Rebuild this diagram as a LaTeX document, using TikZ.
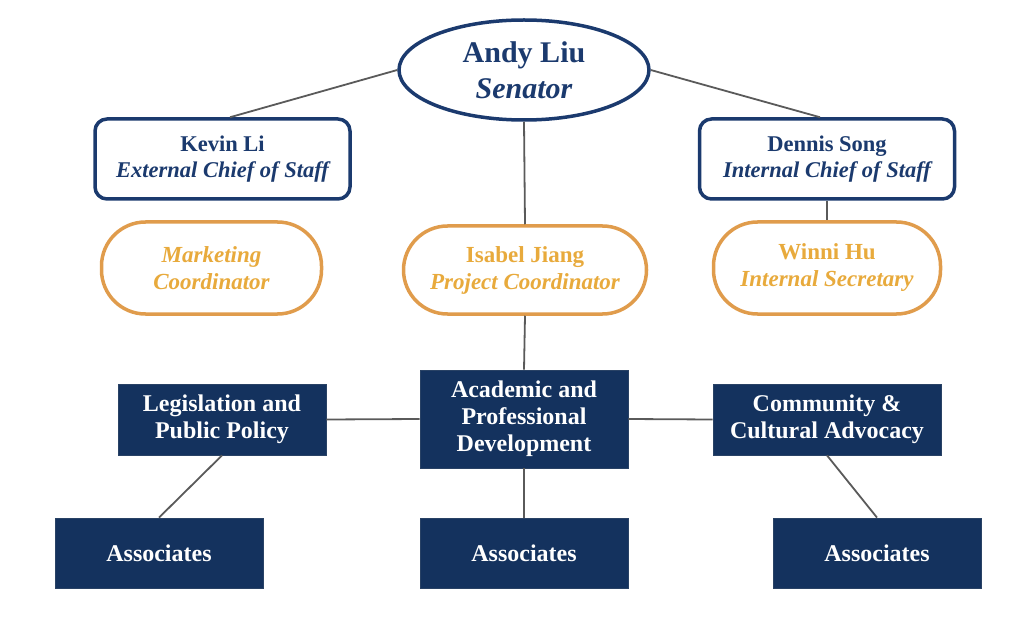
\documentclass[tikz,border=0pt]{standalone}
\usepackage{fontspec}
\setmainfont{Liberation Serif}
\usetikzlibrary{shapes.geometric}
\definecolor{navy}{HTML}{1B3A6E}
\definecolor{navyfill}{HTML}{14325E}
\definecolor{gold}{HTML}{E09C4C}
\definecolor{goldtext}{HTML}{E8AA3C}
\definecolor{linegray}{HTML}{5A5A5A}
\tikzset{
  link/.style={draw=linegray, line width=1.8pt},
  topnode/.style={ellipse, draw=navy, line width=3.5pt, fill=white, inner sep=0pt,
    minimum width=250pt, minimum height=100pt, align=center, text=navy,
    font=\fontsize{30}{36}\selectfont\bfseries},
  staffbox/.style={rectangle, rounded corners=12pt, draw=navy, line width=3.5pt, fill=white,
    inner sep=0pt, minimum width=255pt, minimum height=80pt, align=center, text=navy,
    font=\fontsize{22.5}{26}\selectfont\bfseries},
  coordbox/.style={rectangle, rounded corners=44pt, draw=gold, line width=3.5pt, fill=white,
    inner sep=0pt, minimum height=92pt, align=center, text=goldtext,
    font=\fontsize{23}{27}\selectfont\bfseries},
  deptbox/.style={rectangle, draw=navyfill!80!gray, line width=0.8pt, fill=navyfill,
    inner sep=0pt, minimum width=208pt, align=center, text=white,
    font=\fontsize{24}{27}\selectfont\bfseries}
}
\begin{document}
\begin{tikzpicture}[x=1pt, y=-1pt]
\useasboundingbox (0,0) rectangle (1024,628);
% top
\node[topnode] (andy) at (524,70) {Andy Liu\\\itshape Senator};
% chiefs
\node[staffbox] (kevin) at (222.5,159) {Kevin Li\\\itshape External Chief of Staff};
\node[staffbox] (dennis) at (827,159) {Dennis Song\\\itshape Internal Chief of Staff};
% coordinators
\node[coordbox, minimum width=220pt] (market) at (211.5,268) {\itshape Marketing\\\itshape Coordinator};
\node[coordbox, minimum width=243pt, minimum height=88pt] (isabel) at (525,270) {Isabel Jiang\\\itshape Project Coordinator};
\node[coordbox, minimum width=227pt] (winni) at (827,268) {Winni Hu\\\itshape Internal Secretary};
% departments
\node[deptbox, minimum height=98pt] (acad) at (524,419) {Academic and\\Professional\\Development};
\node[deptbox, minimum height=71pt] (legis) at (222,419.5) {Legislation and\\Public Policy};
\node[deptbox, minimum width=228pt, minimum height=71pt] (comm) at (827,419.5) {Community \&\\Cultural Advocacy};
% associates
\node[deptbox, minimum height=70pt] (assocL) at (159,553) {Associates};
\node[deptbox, minimum height=70pt] (assocC) at (524,553) {Associates};
\node[deptbox, minimum height=70pt] (assocR) at (877,553) {Associates};
% connectors
\coordinate (kevintop) at (230,117);
\coordinate (dennistop) at (820,117);
\draw[link] (andy.west) -- (kevin.north -| kevintop);
\draw[link] (andy.east) -- (dennis.north -| dennistop);
\draw[link] (andy.south) -- (isabel.north);
\draw[link] (dennis.south) -- (winni.north);
\draw[link] (isabel.south) -- (acad.north);
\draw[link] (legis.east) -- (acad.west);
\draw[link] (acad.east) -- (comm.west);
\draw[link] (acad.south) -- (assocC.north);
\draw[link] (legis.south) -- (assocL.north);
\draw[link] (comm.south) -- (assocR.north);
\end{tikzpicture}
\end{document}
